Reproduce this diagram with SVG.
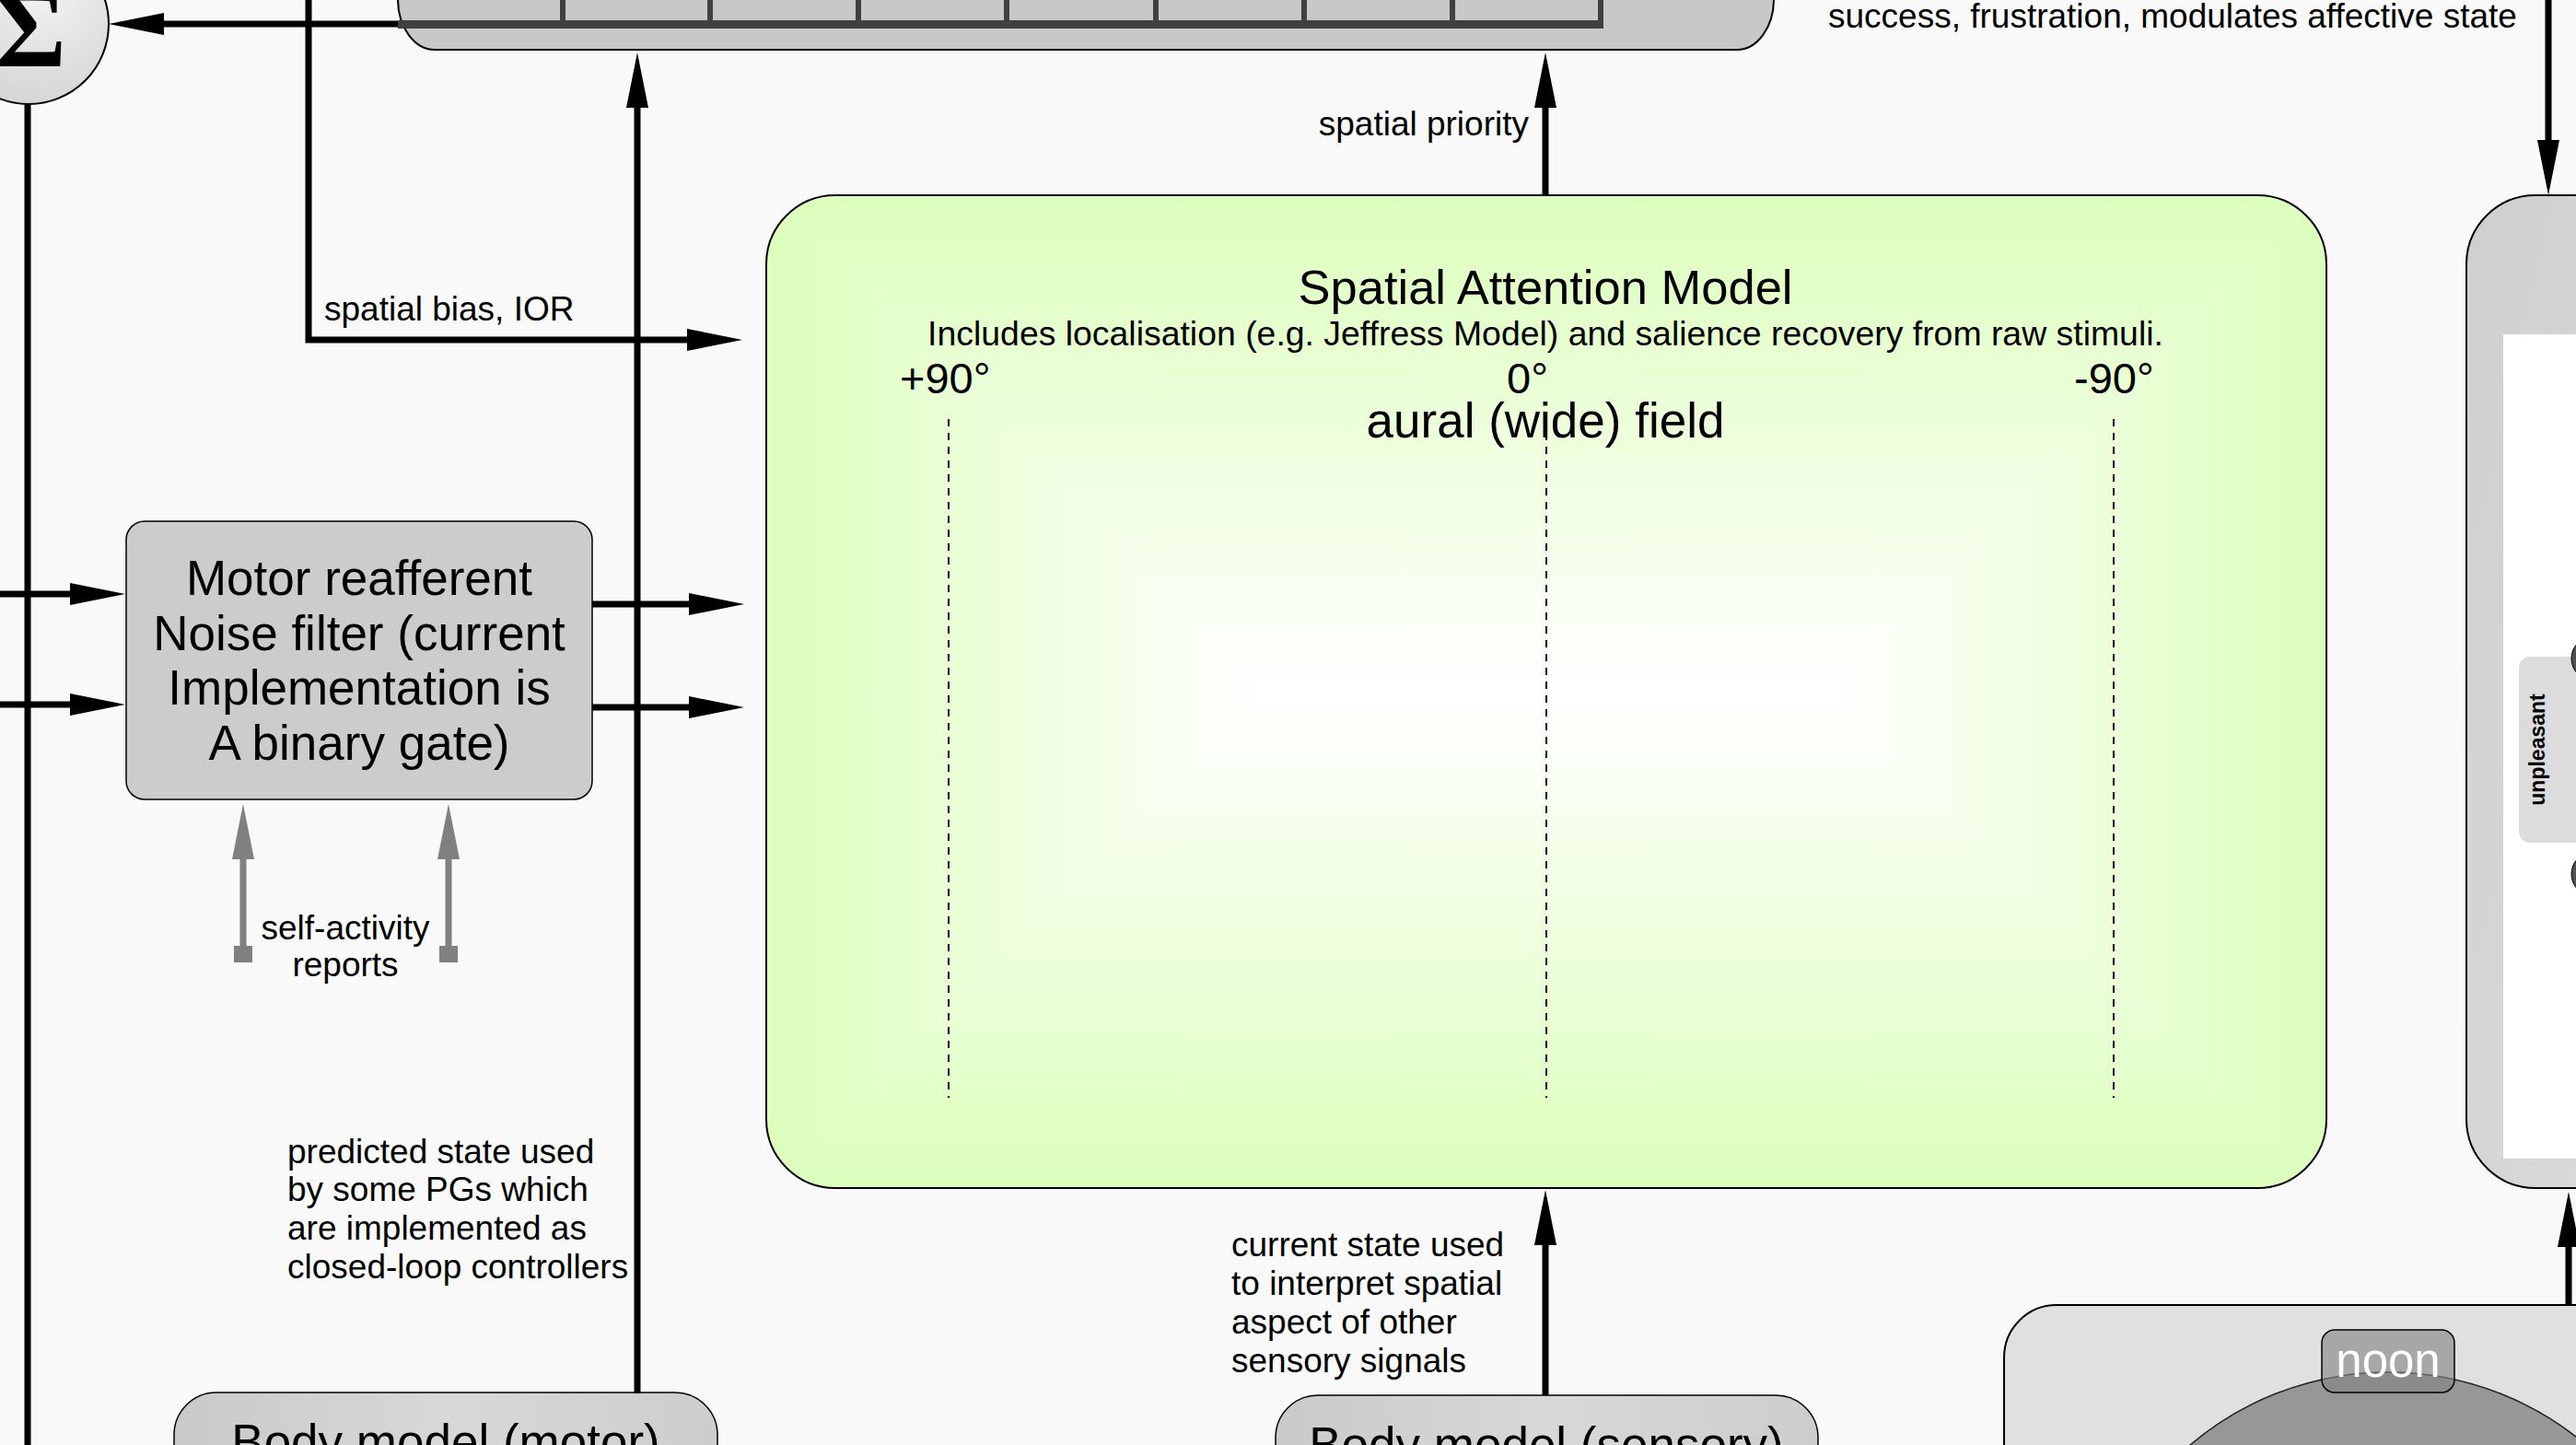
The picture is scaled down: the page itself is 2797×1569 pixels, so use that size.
<svg xmlns="http://www.w3.org/2000/svg" width="2797" height="1569" viewBox="0 0 2797 1569">
<style>
text{font-family:"Liberation Sans",Arial,sans-serif;fill:#000}
.lbl{font-size:37px}
.big{font-size:53px;text-anchor:middle}
.conn{fill:none;stroke:#000;stroke-width:7}
.gconn{fill:none;stroke:#808080;stroke-width:7}
.edge{stroke:#000;stroke-width:2}
.cell{stroke:#404040;stroke-width:6}
.dash{stroke:#000;stroke-width:2;stroke-dasharray:8 7}
</style>
<defs>
<marker id="ah" markerUnits="userSpaceOnUse" viewBox="0 -12 60 24" markerWidth="60" markerHeight="24" refX="1" refY="0" orient="auto">
<path d="M0,-12 L60,0 L0,12 Z" fill="#000"/>
</marker>
<marker id="gah" markerUnits="userSpaceOnUse" viewBox="0 -12 60 24" markerWidth="60" markerHeight="24" refX="1" refY="0" orient="auto">
<path d="M0,-12 L60,0 L0,12 Z" fill="#808080"/>
</marker>
<marker id="gsq" markerUnits="userSpaceOnUse" viewBox="-10 -10 20 20" markerWidth="20" markerHeight="20" refX="0" refY="0" orient="auto">
<rect x="-9" y="-10" width="18" height="20" fill="#808080"/>
</marker>
<radialGradient id="sigG" cx="0.6" cy="0.3" r="0.8">
<stop offset="0" stop-color="#f2f2f2"/><stop offset="1" stop-color="#d2d2d2"/>
</radialGradient>
<linearGradient id="bodyG" x1="0" y1="0" x2="1" y2="0">
<stop offset="0" stop-color="#c9c9c9"/><stop offset="0.5" stop-color="#d8d8d8"/><stop offset="1" stop-color="#cdcdcd"/>
</linearGradient>
<linearGradient id="rbG" x1="0" y1="0" x2="1" y2="1">
<stop offset="0" stop-color="#cfcfcf"/><stop offset="1" stop-color="#dcdcdc"/>
</linearGradient>
<linearGradient id="gT" gradientUnits="userSpaceOnUse" x1="0" y1="212" x2="0" y2="751">
<stop offset="0" stop-color="#dcffbc"/><stop offset="1" stop-color="#ffffff"/>
</linearGradient>
<linearGradient id="gB" gradientUnits="userSpaceOnUse" x1="0" y1="1290" x2="0" y2="751">
<stop offset="0" stop-color="#dcffbc"/><stop offset="1" stop-color="#ffffff"/>
</linearGradient>
<linearGradient id="gL" gradientUnits="userSpaceOnUse" x1="832" y1="0" x2="1371" y2="0">
<stop offset="0" stop-color="#dcffbc"/><stop offset="1" stop-color="#ffffff"/>
</linearGradient>
<linearGradient id="gR" gradientUnits="userSpaceOnUse" x1="2526" y1="0" x2="1987" y2="0">
<stop offset="0" stop-color="#dcffbc"/><stop offset="1" stop-color="#ffffff"/>
</linearGradient>
<clipPath id="samClip"><rect x="832" y="212" width="1694" height="1078" rx="75" ry="75"/></clipPath>
</defs>

<rect x="0" y="0" width="2797" height="1569" fill="#f9f9f9"/>

<g id="sigma">
<circle cx="31" cy="26" r="87" fill="url(#sigG)" class="edge"/>
<text x="72" y="72" font-size="118" font-weight="bold" text-anchor="end" style="font-family:'Liberation Serif','Times New Roman',serif">Σ</text>
</g>

<g id="top-bar">
<rect x="432" y="-80" width="1494" height="134" rx="40" ry="55" fill="#c8c8c8" class="edge"/>
<rect x="432" y="22" width="1309" height="9" fill="#404040"/>
<line class="cell" x1="611" y1="0" x2="611" y2="24"/>
<line class="cell" x1="771" y1="0" x2="771" y2="24"/>
<line class="cell" x1="932" y1="0" x2="932" y2="24"/>
<line class="cell" x1="1093" y1="0" x2="1093" y2="24"/>
<line class="cell" x1="1255" y1="0" x2="1255" y2="24"/>
<line class="cell" x1="1416" y1="0" x2="1416" y2="24"/>
<line class="cell" x1="1577" y1="0" x2="1577" y2="24"/>
<line class="cell" x1="1738" y1="0" x2="1738" y2="31"/>
</g>

<g id="spatial-attention-model">
<g clip-path="url(#samClip)">
<polygon points="831,211 2527,211 1987,752 1371,752" fill="url(#gT)"/>
<polygon points="831,1291 2527,1291 1987,750 1371,750" fill="url(#gB)"/>
<polygon points="831,210 1373,751 831,1292" fill="url(#gL)"/>
<polygon points="2527,210 1985,751 2527,1292" fill="url(#gR)"/>
</g>
<rect x="832" y="212" width="1694" height="1078" rx="75" ry="75" fill="none" class="edge"/>
<text x="1678" y="330" font-size="52.5" text-anchor="middle">Spatial Attention Model</text>
<text x="1678" y="375" font-size="37.4" text-anchor="middle">Includes localisation (e.g. Jeffress Model) and salience recovery from raw stimuli.</text>
<text x="977" y="427" font-size="47">+90°</text>
<text x="1636" y="427" font-size="47">0°</text>
<text x="2252" y="427" font-size="47">-90°</text>
<text x="1678" y="475" font-size="53" text-anchor="middle">aural (wide) field</text>
<line class="dash" x1="1030" y1="455" x2="1030" y2="1192"/>
<line class="dash" x1="1679" y1="455" x2="1679" y2="1192"/>
<line class="dash" x1="2295" y1="455" x2="2295" y2="1192"/>
</g>

<g id="motor-reafferent-filter">
<rect x="137" y="566" width="506" height="302" rx="20" ry="20" fill="#cccccc" stroke="#000" stroke-width="1.5"/>
<text class="big" x="390" y="646">Motor reafferent</text>
<text class="big" x="390" y="706">Noise filter (current</text>
<text class="big" x="390" y="765">Implementation is</text>
<text class="big" x="390" y="825">A binary gate)</text>
</g>

<g id="body-model-motor">
<rect x="189" y="1512" width="590" height="140" rx="46" ry="46" fill="url(#bodyG)" stroke="#000" stroke-width="1.5"/>
<text x="484" y="1584" font-size="53" text-anchor="middle">Body model (motor)</text>
</g>

<g id="body-model-sensory">
<rect x="1385" y="1515" width="589" height="140" rx="46" ry="46" fill="url(#bodyG)" stroke="#000" stroke-width="1.5"/>
<text x="1679" y="1587" font-size="53" text-anchor="middle">Body model (sensory)</text>
</g>

<g id="affective-state">
<rect x="2678" y="212" width="260" height="1078" rx="75" ry="75" fill="url(#rbG)" class="edge"/>
<rect x="2718" y="363" width="100" height="895" fill="#ffffff"/>
<rect x="2735" y="713" width="100" height="202" rx="12" ry="12" fill="#dcdcdc"/>
<text transform="translate(2763,814) rotate(-90)" font-size="23" font-weight="bold" text-anchor="middle" fill="#222">unpleasant</text>
<circle cx="2816" cy="715" r="24" fill="#505050" stroke="#000" stroke-width="1"/>
<circle cx="2816" cy="949" r="24" fill="#505050" stroke="#000" stroke-width="1"/>
</g>

<g id="noon-clock">
<rect x="2176" y="1417" width="700" height="300" rx="57" ry="57" fill="#e0e0e0" class="edge"/>
<circle cx="2593" cy="1822" r="332" fill="#979797" stroke="#222" stroke-width="1.5"/>
<rect x="2521" y="1444" width="144" height="68" rx="14" ry="14" fill="#858585" fill-opacity="0.62" stroke="#000" stroke-width="1.5"/>
<text x="2593" y="1495" font-size="51" text-anchor="middle" style="fill:#ffffff">noon</text>
</g>

<g id="connectors">
<path class="conn" d="M432,26 H177" marker-end="url(#ah)"/>
<path class="conn" d="M30,113 V1569"/>
<path class="conn" d="M335,0 V369 H747" marker-end="url(#ah)"/>
<path class="conn" d="M692,1513 V116" marker-end="url(#ah)"/>
<path class="conn" d="M0,645 H77" marker-end="url(#ah)"/>
<path class="conn" d="M0,765 H77" marker-end="url(#ah)"/>
<path class="conn" d="M643,656 H749" marker-end="url(#ah)"/>
<path class="conn" d="M643,768 H749" marker-end="url(#ah)"/>
<path class="gconn" d="M264,1036 V932" marker-start="url(#gsq)" marker-end="url(#gah)"/>
<path class="gconn" d="M487,1036 V932" marker-start="url(#gsq)" marker-end="url(#gah)"/>
<path class="conn" d="M1678,212 V116" marker-end="url(#ah)"/>
<path class="conn" d="M1678,1515 V1351" marker-end="url(#ah)"/>
<path class="conn" d="M2767,0 V153" marker-end="url(#ah)"/>
<path class="conn" d="M2789,1417 V1353" marker-end="url(#ah)"/>
<text class="lbl" x="352" y="348">spatial bias, IOR</text>
<text class="lbl" x="1660" y="147" text-anchor="end">spatial priority</text>
<text class="lbl" x="1985" y="30">success, frustration, modulates affective state</text>
<text class="lbl" x="375" y="1020" text-anchor="middle">self-activity</text>
<text class="lbl" x="375" y="1060" text-anchor="middle">reports</text>
<text class="lbl" x="312" y="1263">predicted state used</text>
<text class="lbl" x="312" y="1304">by some PGs which</text>
<text class="lbl" x="312" y="1346">are implemented as</text>
<text class="lbl" x="312" y="1388">closed-loop controllers</text>
<text class="lbl" x="1337" y="1364">current state used</text>
<text class="lbl" x="1337" y="1406">to interpret spatial</text>
<text class="lbl" x="1337" y="1448">aspect of other</text>
<text class="lbl" x="1337" y="1490">sensory signals</text>
</g>
</svg>
